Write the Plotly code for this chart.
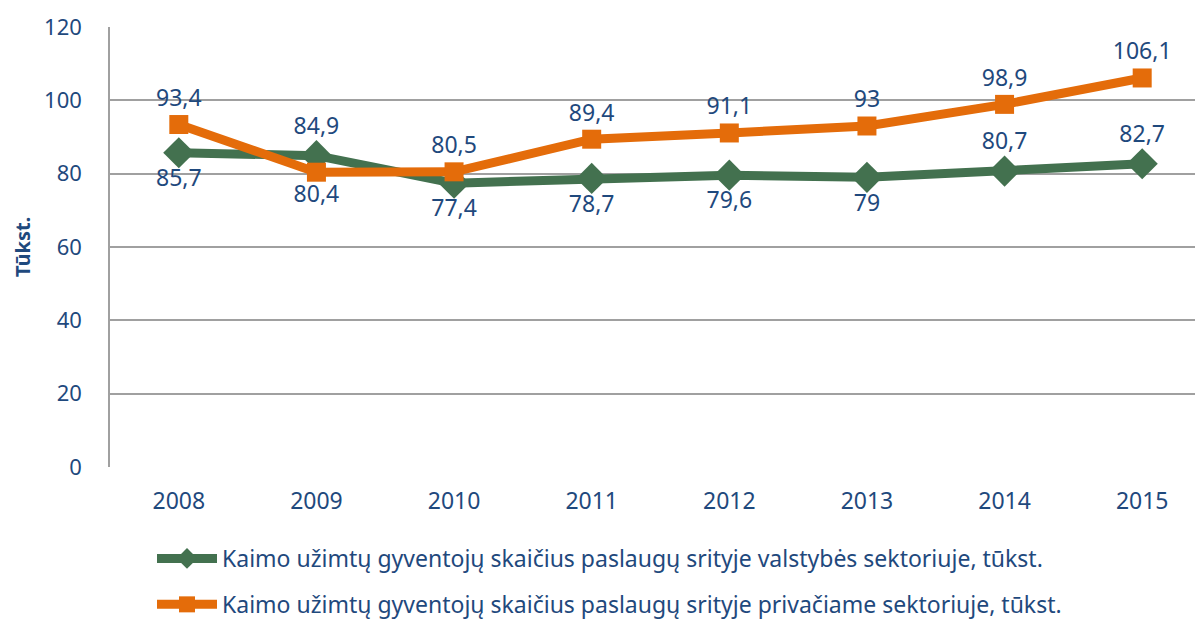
import plotly.graph_objects as go

years = [2008, 2009, 2010, 2011, 2012, 2013, 2014, 2015]
valst = [85.7, 84.9, 77.4, 78.7, 79.6, 79.0, 80.7, 82.7]
priv = [93.4, 80.4, 80.5, 89.4, 91.1, 93.0, 98.9, 106.1]
valst_pos = ["bottom center", "top center", "bottom center", "bottom center",
             "bottom center", "bottom center", "top center", "top center"]
priv_pos = ["top center", "bottom center", "top center", "top center",
            "top center", "top center", "top center", "top center"]
name_v = "Kaimo užimtų gyventojų skaičius paslaugų srityje valstybės sektoriuje, tūkst."
name_p = "Kaimo užimtų gyventojų skaičius paslaugų srityje privačiame sektoriuje, tūkst."

def fmt(v):
    s = ("%.1f" % v).rstrip("0").rstrip(".")
    return s.replace(".", ",")

FONT = "Noto Sans"
BLUE = "#1F497D"
GREEN = "#43714F"
ORANGE = "#E46C0A"

# the page has an 8px body margin, so the figure is offset by 8px
W, H = 1203, 619
L, T = 102, 19
PLOT_H = 440
B = H - T - PLOT_H
PLOT_W = W - L

fig = go.Figure()
fig.add_trace(go.Scatter(
    x=years, y=valst, name=name_v, mode="lines+markers+text",
    line=dict(color=GREEN, width=9),
    marker=dict(symbol="diamond", size=24, color=GREEN),
    text=[fmt(v) for v in valst], textposition=valst_pos,
    textfont=dict(family=FONT, size=23, color=BLUE),
    legendgroup="a",
))
fig.add_trace(go.Scatter(
    x=years, y=priv, name=name_p, mode="lines+markers+text",
    line=dict(color=ORANGE, width=9),
    marker=dict(symbol="square", size=19, color=ORANGE),
    text=[fmt(v) for v in priv], textposition=priv_pos,
    textfont=dict(family=FONT, size=23, color=BLUE),
    legendgroup="b",
))

fig.update_layout(
    width=W, height=H,
    margin=dict(l=L, r=0, t=T, b=B),
    paper_bgcolor="white", plot_bgcolor="white",
    font=dict(family=FONT, size=22, color=BLUE),
    legend=dict(x=(152 - 110) / PLOT_W, y=-(537 - 467) / PLOT_H,
                xanchor="left", yanchor="top",
                orientation="v", itemwidth=60, tracegroupgap=13,
                font=dict(family=FONT, size=23, color=BLUE)),
    xaxis=dict(range=[2007.5, 2015.5], tickmode="array", tickvals=years,
               ticktext=[str(y) for y in years], showgrid=False,
               showline=False, zeroline=False, ticks="",
               tickfont=dict(family=FONT, size=23, color=BLUE),
               ticklabelstandoff=18),
    yaxis=dict(range=[0, 120], tickvals=[0, 20, 40, 60, 80, 100, 120],
               showgrid=True, gridcolor="#A0A0A0", gridwidth=1.5,
               showline=True, linecolor="#A0A0A0", linewidth=1.5,
               zeroline=False, ticks="",
               tickfont=dict(family=FONT, size=22, color=BLUE),
               ticklabelstandoff=22),
    annotations=[dict(text="<b>Tūkst.</b>", xref="paper", yref="paper",
                      x=-(110 - 22) / PLOT_W, y=0.5,
                      xanchor="center", yanchor="middle",
                      textangle=-90, showarrow=False,
                      font=dict(family=FONT, size=20, color=BLUE))],
)
fig.write_html("out.html")
